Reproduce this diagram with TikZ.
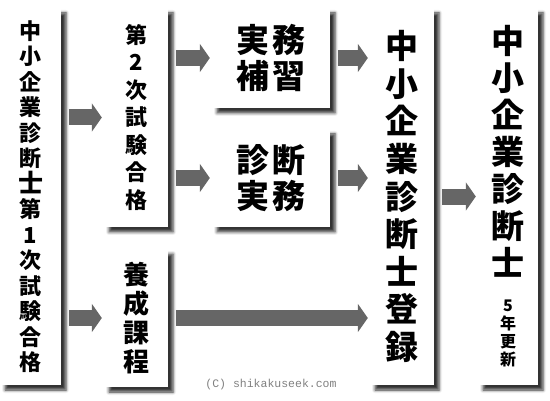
\documentclass[tikz,border=0pt]{standalone}
\usepackage{fontspec}
\newfontfamily\jpfont{Noto Sans CJK JP}
\newfontfamily\credfont{Liberation Mono}
\usepackage{tikz}
\usetikzlibrary{arrows.meta,positioning,shadows.blur}
\definecolor{arrowgray}{HTML}{666666}
\definecolor{credgray}{HTML}{808080}
\def\Shindanshi{中\\小\\企\\業\\診\\断\\士}

\begin{document}
\begin{tikzpicture}[x=1pt,y=1pt,% every length is in px of the 550x400 picture
			every node/.style={
				align=center,  		% so that "\\" stacks the characters
				inner sep=0pt,
				font=\jpfont\bfseries
			},
			box/.style={rectangle,fill=white,
				blur shadow={shadow xshift=5pt,shadow yshift=-5pt,shadow blur radius=3pt,shadow opacity=80}},
			every edge/.style={draw=arrowgray,line width=16pt,-{Triangle[length=10pt,width=28pt]},
				shorten <=8pt,shorten >=2pt}
		]
		\useasboundingbox (0,0) rectangle (550,400);
		% exam path
		\node[box,minimum width=61pt,minimum height=377pt,font=\jpfont\bfseries\fontsize{22}{25.5}\selectfont]
			(Ichiji) at (30.5,203.5) {中\\小\\企\\業\\診\\断\\{\fontsize{25}{25.5}\selectfont 士}\\第\\1\\次\\試\\験\\合\\格};
		\node[box,minimum width=64pt,minimum height=219pt,font=\jpfont\bfseries\fontsize{22}{27.5}\selectfont]
			(Niji) at (136,282.5) {第\\2\\次\\試\\験\\合\\格};
		\node[box,minimum width=64pt,minimum height=138pt,font=\jpfont\bfseries\fontsize{26}{29}\selectfont]
			(Yousei) at (136,82) {養\\成\\課\\程};
		\node[box,minimum width=118pt,minimum height=100pt,font=\jpfont\bfseries\fontsize{33}{36}\selectfont]
			(Hoshu) at (271,342) {実\kern4pt務\\補\kern4pt習};
		\node[box,minimum width=118pt,minimum height=98pt,font=\jpfont\bfseries\fontsize{33}{36}\selectfont]
			(Jitsumu) at (271,222) {診\kern4pt断\\実\kern4pt務};
		% registration and renewal
		\node[box,minimum width=64pt,minimum height=377pt,font=\jpfont\bfseries\fontsize{33}{37.6}\selectfont]
			(Touroku) at (402,203.5) {\Shindanshi\\登\\録};
		\node[box,minimum width=60pt,minimum height=377pt]
			(Koushin) at (508,203.5) {\parbox{50pt}{\centering
				\fontsize{33}{37}\selectfont\Shindanshi\par
				\vspace{18pt}
				\fontsize{16}{18}\selectfont 5\\年\\更\\新\par}};
		\node[font=\credfont\fontsize{11.5}{12}\selectfont,text=credgray](Cred) at (271,15) {(C) shikakuseek.com};
		\path
		(Ichiji.east |- Niji)edge []	node [] {} (Niji)
		(Ichiji.east |- Yousei)edge []	node [] {} (Yousei)
		(Niji.east |- Hoshu)edge []	node [] {} (Hoshu)
		(Niji.east |- Jitsumu)edge []	node [] {} (Jitsumu)
		(Hoshu)edge []	node [] {} (Touroku.west |- Hoshu)
		(Jitsumu)edge []	node [] {} (Touroku.west |- Jitsumu)
		(Yousei)edge []	node [] {} (Touroku.west |- Yousei)
		(Touroku.east |- Koushin)edge []	node [] {} (Koushin)
		;
	\end{tikzpicture}
\end{document}
